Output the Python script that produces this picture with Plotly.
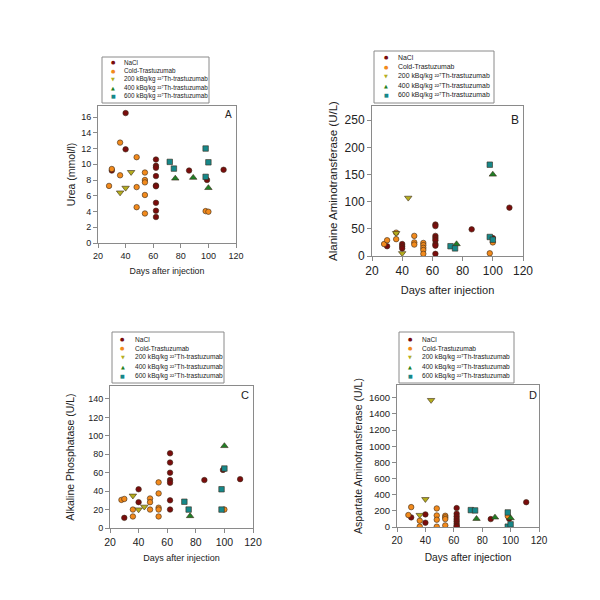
import plotly.graph_objects as go

# ---------------- data ----------------
group_names = ["NaCl", "Cold-Trastuzumab",
               "200 kBq/kg ²²⁷Th-trastuzumab",
               "400 kBq/kg ²²⁷Th-trastuzumab",
               "600 kBq/kg ²²⁷Th-trastuzumab"]

# Panel A: Urea (mmol/l)
a_nacl_days = [30, 40, 40, 62, 62, 62, 62, 62, 62, 62, 62, 62, 86, 99, 111]
a_nacl_vals = [9.2, 16.5, 11.9, 10.6, 9.8, 9.55, 8.5, 7.3, 7.2, 5.1, 4.1, 3.3, 9.2, 8.0, 9.3]
a_cold_days = [28, 30, 36, 36, 48, 48, 48, 54, 54, 54, 54, 54, 98, 100]
a_cold_vals = [7.25, 9.4, 12.75, 8.6, 10.9, 7.1, 4.55, 8.95, 8.0, 7.7, 6.1, 3.75, 4.05, 3.97]
a_200_days = [36, 40, 44]
a_200_vals = [6.4, 7.0, 9.0]
a_400_days = [76, 89, 100]
a_400_vals = [8.2, 8.3, 7.0]
a_600_days = [72, 75, 98, 100, 98]
a_600_vals = [10.3, 9.45, 12.0, 10.25, 8.4]

# Panel B: Alanine Aminotransferase (U/L)
b_nacl_days = [30, 40, 40, 40, 62, 62, 62, 62, 62, 62, 62, 62, 86, 100, 111]
b_nacl_vals = [18, 22, 18, 14, 58, 55, 37, 33, 29, 22, 19, 4, 49, 33, 89]
b_cold_days = [28, 30, 36, 36, 48, 48, 48, 54, 54, 54, 54, 54, 98, 100]
b_cold_vals = [22, 29, 31, 43, 37, 25, 21, 24, 20, 15, 11, 4, 5, 25]
b_200_days = [36, 40, 44]
b_200_vals = [42, 5, 107]
b_400_days = [76, 100]
b_400_vals = [22, 150]
b_600_days = [72, 75, 98, 98, 100]
b_600_vals = [18, 14, 168, 35, 30]

# Panel C: Alkaline Phosphatase (U/L)
c_nacl_days = [30, 40, 40, 62, 62, 62, 62, 62, 62, 62, 86, 99, 111]
c_nacl_vals = [11, 42, 28, 81, 71, 60, 52, 49, 30, 20, 52, 63, 53]
c_cold_days = [28, 30, 36, 36, 48, 48, 48, 54, 54, 54, 54, 54, 100]
c_cold_vals = [30.5, 31.5, 20, 12.5, 32, 28, 20, 49.5, 37.5, 22, 20, 12.5, 20]
c_200_days = [36, 40, 44]
c_200_vals = [35, 20, 23]
c_400_days = [76, 100]
c_400_vals = [13, 89]
c_600_days = [72, 75, 98, 98, 100]
c_600_vals = [28.5, 20, 42, 20, 64.5]

# Panel D: Aspartate Aminotransferase (U/L)
d_nacl_days = [30, 40, 40, 62, 62, 62, 62, 62, 62, 62, 62, 86, 99, 111]
d_nacl_vals = [119, 156, 53, 234, 164, 131, 98, 70, 41, 16, 5, 98, 102, 307]
d_cold_days = [28, 30, 36, 36, 48, 48, 48, 48, 54, 54, 54, 54, 98]
d_cold_vals = [148, 246, 78, 5, 230, 143, 90, 4, 139, 119, 98, 20, 135]
d_200_days = [36, 40, 44]
d_200_vals = [148, 344, 1570]
d_400_days = [76, 89, 100]
d_400_vals = [102, 119, 110]
d_600_days = [72, 75, 98, 98, 100]
d_600_vals = [209, 205, 180, 4, 33]

x_title = "Days after injection"
y_titles = ["Urea (mmol/l)", "Alanine Aminotransferase (U/L)",
            "Alkaline Phosphatase (U/L)", "Aspartate Aminotransferase (U/L)"]
panel_letters = ["A", "B", "C", "D"]

# ---------------- styles ----------------
colors = ["#7A0C0C", "#F28A1C", "#B5AE1E", "#1F7F25", "#17888A"]
symbols = ["circle", "circle", "triangle-down", "triangle-up", "square"]
msizes = [5.5, 5.5, 6.5, 6.5, 5.5]
legend_glyphs = ["●", "●", "▼", "▲", "■"]

# the page body has an 8px margin; figure fills the rest of the 600px window
OFF = 8
W = H = 600 - OFF
FONT = "Liberation Sans, Arial, sans-serif"
TXT = "#222222"
AX = "#8a8a8a"


def px(x):
    return (x - OFF) / W


def py(y):
    return 1 - (y - OFF) / H


panels = [
    dict(data=[(a_nacl_days, a_nacl_vals), (a_cold_days, a_cold_vals), (a_200_days, a_200_vals),
               (a_400_days, a_400_vals), (a_600_days, a_600_vals)],
         box=(98, 236, 106, 243), yr=17.4, dy=2, xf=9, yf=9, xtf=8.8, ytf=10.5,
         leg=(102, 209, 57, 103), rows=(62, 8.6), lsym=113, ltxt=122, lf=6.3,
         letter=(228, 114, 10), xstand=8, ystand=3),
    dict(data=[(b_nacl_days, b_nacl_vals), (b_cold_days, b_cold_vals), (b_200_days, b_200_vals),
               (b_400_days, b_400_vals), (b_600_days, b_600_vals)],
         box=(372, 523, 106, 256), yr=276, dy=50, xf=12, yf=12, xtf=11, ytf=11.5,
         leg=(374, 494, 51, 103), rows=(57, 9.6), lsym=386, ltxt=396, lf=6.9,
         letter=(515, 120, 12), xstand=8, ystand=4),
    dict(data=[(c_nacl_days, c_nacl_vals), (c_cold_days, c_cold_vals), (c_200_days, c_200_vals),
               (c_400_days, c_400_vals), (c_600_days, c_600_vals)],
         box=(110, 253, 386, 528), yr=154, dy=20, xf=10.5, yf=9, xtf=9, ytf=10.5,
         leg=(112, 224, 332, 383), rows=(339, 9.2), lsym=123, ltxt=133, lf=6.6,
         letter=(245, 395, 11), xstand=8, ystand=11),
    dict(data=[(d_nacl_days, d_nacl_vals), (d_cold_days, d_cold_vals), (d_200_days, d_200_vals),
               (d_400_days, d_400_vals), (d_600_days, d_600_vals)],
         box=(397, 539, 385, 527), yr=1757, dy=200, xf=10, yf=9.5, xtf=10.2, ytf=10.5,
         leg=(399, 514, 332, 383), rows=(339, 9.2), lsym=410, ltxt=420, lf=6.6,
         letter=(533, 395, 11), xstand=8, ystand=4),
]

fig = go.Figure()
annotations = []
shapes = []
layout_axes = {}

for i, p in enumerate(panels):
    n = "" if i == 0 else str(i + 1)
    xa, ya = "x" + n, "y" + n
    for g, (days, vals) in enumerate(p["data"]):
        fig.add_trace(go.Scatter(
            x=days, y=vals, mode="markers", name=group_names[g], showlegend=False,
            xaxis=xa, yaxis=ya,
            marker=dict(symbol=symbols[g], size=msizes[g], color=colors[g],
                        line=dict(color="#3a2a1a", width=0.6))))
    l, r, t, b = p["box"]
    common = dict(showline=True, mirror=True, linecolor=AX, linewidth=1, ticks="outside",
                  ticklen=4, tickcolor=AX, showgrid=False, zeroline=False,
                  color=TXT, automargin=False)
    layout_axes["xaxis" + n] = dict(
        domain=[px(l), px(r)], anchor=ya, range=[20, 120], tick0=20, dtick=20,
        tickfont=dict(size=p["xf"], family=FONT, color=TXT),
        title=dict(text=x_title, font=dict(size=p["xtf"], family=FONT, color=TXT),
                   standoff=p["xstand"]), **common)
    layout_axes["yaxis" + n] = dict(
        domain=[py(b), py(t)], anchor=xa, range=[0, p["yr"]], tick0=0, dtick=p["dy"],
        tickfont=dict(size=p["yf"], family=FONT, color=TXT),
        title=dict(text=y_titles[i], font=dict(size=p["ytf"], family=FONT, color=TXT),
                   standoff=p["ystand"]), **common)
    # panel letter
    lx, ly, lsz = p["letter"]
    annotations.append(dict(text=panel_letters[i], x=px(lx), y=py(ly), xref="paper",
                            yref="paper", showarrow=False, xanchor="center", yanchor="middle",
                            font=dict(size=lsz, family=FONT, color=TXT)))
    # legend box
    L, R, T, B = p["leg"]
    shapes.append(dict(type="rect", xref="paper", yref="paper", x0=px(L), x1=px(R),
                       y0=py(B), y1=py(T), line=dict(color=AX, width=1),
                       fillcolor="white"))
    y0, dyr = p["rows"]
    for g in range(5):
        yy = py(y0 + g * dyr)
        annotations.append(dict(text=legend_glyphs[g], x=px(p["lsym"]), y=yy, xref="paper",
                                yref="paper", showarrow=False, xanchor="center",
                                yanchor="middle",
                                font=dict(size=5, family="DejaVu Sans", color=colors[g])))
        annotations.append(dict(text=group_names[g], x=px(p["ltxt"]), y=yy, xref="paper",
                                yref="paper", showarrow=False, xanchor="left",
                                yanchor="middle",
                                font=dict(size=p["lf"], family=FONT, color=TXT)))

fig.update_layout(width=W, height=H, margin=dict(l=0, r=0, t=0, b=0),
                  paper_bgcolor="white", plot_bgcolor="white",
                  annotations=annotations, shapes=shapes, showlegend=False,
                  font=dict(family=FONT, color=TXT), **layout_axes)

fig.write_html("out.html")
